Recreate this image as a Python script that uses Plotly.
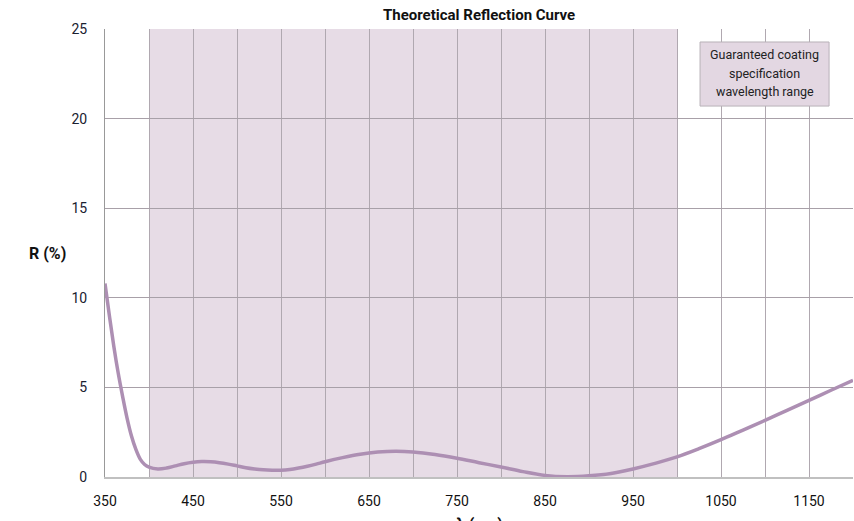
import plotly.graph_objects as go

wavelength = [350, 355, 360, 365, 370, 375, 380, 385, 390, 395, 400, 410, 420, 430, 440, 450,
              460, 470, 480, 490, 500, 510, 520, 530, 540, 550, 560, 570, 580, 590, 600,
              620, 640, 660, 680, 700, 725, 750, 775, 800, 825, 850, 875, 900, 925, 950,
              975, 1000, 1025, 1050, 1075, 1100, 1125, 1150, 1175, 1200]
reflectance = [10.8, 9.0, 7.3, 5.8, 4.5, 3.3, 2.3, 1.55, 1.0, 0.7, 0.55, 0.45, 0.5, 0.62, 0.74, 0.82,
               0.86, 0.85, 0.8, 0.72, 0.62, 0.52, 0.45, 0.40, 0.38, 0.38, 0.42, 0.5, 0.6, 0.72, 0.85,
               1.08, 1.27, 1.39, 1.44, 1.40, 1.26, 1.05, 0.80, 0.56, 0.30, 0.09, 0.02, 0.07, 0.2, 0.45,
               0.76, 1.12, 1.58, 2.08, 2.62, 3.16, 3.72, 4.28, 4.84, 5.4]

band_start, band_end = 400, 1000
x_tickvals = list(range(350, 1201, 50))
x_ticktext = [str(v) if (v - 350) % 100 == 0 and v < 1200 else "" for v in x_tickvals]
y_tickvals = [0, 5, 10, 15, 20, 25]

title_text = "Theoretical Reflection Curve"
legend_lines = ["Guaranteed coating", "specification", "wavelength range"]
x_title = "λ (nm)"
y_title = "R (%)"

fig = go.Figure()
fig.add_trace(go.Scatter(x=wavelength, y=reflectance, mode="lines",
                         line=dict(color="#ad8fb3", width=3.5, shape="spline", smoothing=1.0),
                         hoverinfo="skip", showlegend=False))

fig.add_shape(type="rect", xref="x", yref="y", x0=band_start, x1=band_end, y0=0, y1=25,
              fillcolor="#e7dce6", line=dict(width=0), layer="below")

fig.update_layout(
    width=854, height=521,
    margin=dict(l=105, r=1, t=29, b=44),
    paper_bgcolor="white", plot_bgcolor="white",
    font=dict(family="Roboto", size=14, color="#222"),
    showlegend=False,
)
fig.update_xaxes(range=[350, 1200], tickvals=x_tickvals, ticktext=x_ticktext,
                 showgrid=True, gridcolor="#b0a8b0", gridwidth=1,
                 showline=True, linecolor="#c0c0c0", linewidth=2,
                 ticks="", ticklabelstandoff=10, zeroline=False,
                 tickfont=dict(size=14, color="#111"))
fig.update_yaxes(range=[0, 25], tickvals=y_tickvals,
                 showgrid=True, gridcolor="#a8a0a8", gridwidth=1,
                 showline=True, linecolor="#999", linewidth=1,
                 ticks="", ticklabelstandoff=14, zeroline=False,
                 tickfont=dict(size=14, color="#1a2030"))

fig.add_annotation(text="<b>" + title_text + "</b>", xref="paper", yref="paper",
                   x=0.5, y=1, yanchor="bottom", yshift=3, showarrow=False,
                   font=dict(size=15, color="#111"))
fig.add_annotation(text="<b>" + y_title + "</b>", xref="paper", yref="paper",
                   x=0, y=0.5, xanchor="right", xshift=-37, showarrow=False,
                   font=dict(size=16, color="#111"))
fig.add_annotation(text="<b>" + x_title + "</b>", xref="paper", yref="paper",
                   x=0.5, y=0, yanchor="top", yshift=-36, showarrow=False,
                   font=dict(size=16, color="#111"))

# legend-like box
fig.add_shape(type="rect", xref="paper", yref="paper", x0=0.7955, x1=0.968, y0=0.828, y1=0.971,
              fillcolor="#e3d7e2", line=dict(color="#b8b2b8", width=1), layer="above")
for i, line in enumerate(legend_lines):
    fig.add_annotation(text=line, xref="paper", yref="paper", x=0.8817, y=0.942,
                       yshift=-18.5 * i, xanchor="center", yanchor="middle", showarrow=False,
                       font=dict(size=12.5, color="#222"))

fig.write_html("out.html", config={"displayModeBar": False})
with open("out.html", encoding="utf-8") as f:
    html = f.read()
html = html.replace("<body>", '<body style="margin:0;padding:0;overflow:hidden">', 1)
with open("out.html", "w", encoding="utf-8") as f:
    f.write(html)
